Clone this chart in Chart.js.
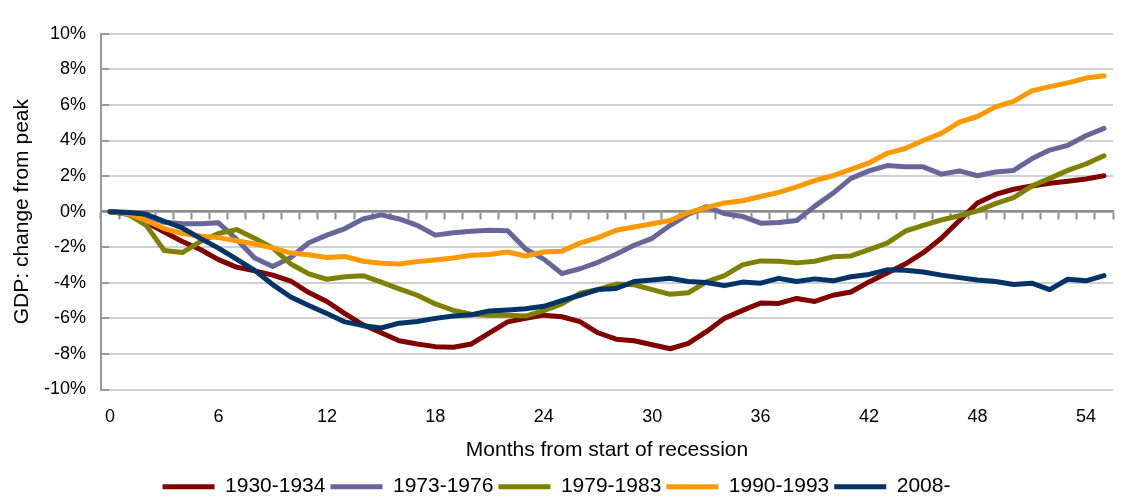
<!DOCTYPE html>
<html lang="en">
<head>
    <meta charset="UTF-8">
    <title>GDP: change from peak</title>
    <style>
        * { margin: 0; padding: 0; box-sizing: border-box; }
        body { background: #fff; }
        #chart-container { width: 1123px; height: 497px; position: relative; }
    </style>
</head>
<body>
    <div id="chart-container">
        <canvas id="myChart"></canvas>
    </div>
<script src="https://cdn.jsdelivr.net/npm/chart.js"></script>
<script>
    // months from start of recession
    const months = ['0','1','2','3','4','5','6','7','8','9','10','11','12','13','14','15','16','17','18','19',
        '20','21','22','23','24','25','26','27','28','29','30','31','32','33','34','35','36','37','38','39',
        '40','41','42','43','44','45','46','47','48','49','50','51','52','53','54','55'];

    // GDP change from peak, percent
    const r1930 = [0, -0.15, -0.6, -1.14, -1.68, -2.13, -2.7, -3.12, -3.33, -3.57,
        -3.9, -4.55, -5.05, -5.73, -6.36, -6.81, -7.26, -7.44, -7.59, -7.62,
        -7.44, -6.81, -6.2, -6.0, -5.82, -5.91, -6.18, -6.81, -7.17, -7.26,
        -7.48, -7.71, -7.41, -6.75, -6.0, -5.55, -5.14, -5.16, -4.88, -5.05,
        -4.7, -4.52, -3.95, -3.45, -2.95, -2.31, -1.5, -0.5, 0.49, 0.97,
        1.26, 1.44, 1.6, 1.71, 1.84, 2.02];
    const r1973 = [0, -0.05, -0.23, -0.6, -0.68, -0.68, -0.63, -1.55, -2.6, -3.08,
        -2.58, -1.75, -1.32, -0.95, -0.41, -0.18, -0.41, -0.77, -1.32, -1.19,
        -1.1, -1.05, -1.08, -2.1, -2.67, -3.48, -3.21, -2.85, -2.4, -1.89,
        -1.5, -0.77, -0.14, 0.28, -0.11, -0.27, -0.65, -0.61, -0.5, 0.31,
        1.03, 1.87, 2.29, 2.59, 2.53, 2.52, 2.11, 2.29, 2.02, 2.23,
        2.32, 2.97, 3.46, 3.73, 4.27, 4.68];
    const r1979 = [0, -0.14, -0.77, -2.18, -2.3, -1.68, -1.23, -1.01, -1.5, -2.04,
        -2.94, -3.5, -3.8, -3.66, -3.6, -3.96, -4.34, -4.7, -5.19, -5.55,
        -5.77, -5.82, -5.83, -5.87, -5.57, -5.19, -4.59, -4.38, -4.07, -4.11,
        -4.38, -4.65, -4.56, -3.95, -3.6, -2.99, -2.77, -2.79, -2.88, -2.79,
        -2.54, -2.49, -2.13, -1.77, -1.1, -0.77, -0.47, -0.23, 0.04, 0.45,
        0.79, 1.44, 1.87, 2.32, 2.68, 3.14];
    const r1990 = [0, -0.1, -0.5, -0.95, -1.23, -1.37, -1.46, -1.64, -1.82, -2.04,
        -2.33, -2.42, -2.58, -2.52, -2.79, -2.9, -2.94, -2.81, -2.72, -2.61,
        -2.45, -2.41, -2.27, -2.49, -2.27, -2.22, -1.77, -1.46, -1.05, -0.86,
        -0.68, -0.5, -0.05, 0.23, 0.49, 0.61, 0.85, 1.08, 1.39, 1.75,
        2.02, 2.38, 2.74, 3.28, 3.55, 4.0, 4.4, 5.03, 5.35, 5.89,
        6.2, 6.79, 7.03, 7.24, 7.51, 7.64];
    const r2008 = [0, -0.05, -0.15, -0.54, -0.92, -1.5, -2.05, -2.67, -3.3, -4.1,
        -4.8, -5.28, -5.73, -6.2, -6.41, -6.54, -6.27, -6.18, -6.0, -5.87,
        -5.8, -5.58, -5.53, -5.46, -5.32, -5.0, -4.7, -4.38, -4.32, -3.93,
        -3.84, -3.75, -3.93, -3.98, -4.16, -3.96, -4.02, -3.75, -3.93, -3.78,
        -3.89, -3.66, -3.53, -3.27, -3.3, -3.39, -3.57, -3.71, -3.84, -3.93,
        -4.1, -4.02, -4.38, -3.8, -3.89, -3.6];

    const seriesNames = ['1930-1934', '1973-1976', '1979-1983', '1990-1993', '2008-'];
    const seriesData = [r1930, r1973, r1979, r1990, r2008];
    const seriesColors = ['#800000', '#666699', '#808000', '#ff9900', '#003366'];

    Chart.defaults.font.family = "'Liberation Sans', Arial, sans-serif";
    Chart.defaults.color = '#000';

    const datasets = seriesNames.map(function(name, i) {
        return {
            label: name,
            data: seriesData[i],
            borderColor: seriesColors[i],
            backgroundColor: seriesColors[i],
            borderWidth: 5,
            pointRadius: 0,
            tension: 0,
            borderJoinStyle: 'round',
            borderCapStyle: 'round',
            order: seriesNames.length - i   // later series on top, like Excel
        };
    });

    const axisGrey = '#8c8c8c';

    const ctx = document.getElementById('myChart').getContext('2d');
    new Chart(ctx, {
        type: 'line',
        data: { labels: months, datasets: datasets },
        options: {
            responsive: true,
            maintainAspectRatio: false,
            animation: false,
            layout: { padding: { top: 19.5, right: 10, bottom: -10.2, left: 0 } },
            plugins: {
                tooltip: { enabled: false },
                legend: {
                    position: 'bottom',
                    labels: {
                        font: { size: 21 },
                        color: '#000',
                        boxWidth: 52,
                        boxHeight: 5,
                        padding: 5,
                        sort: (a, b) => a.datasetIndex - b.datasetIndex,
                        generateLabels: function(chart) {
                            return Chart.defaults.plugins.legend.labels.generateLabels(chart).map(function(l) {
                                l.lineWidth = 0;
                                return l;
                            });
                        }
                    }
                }
            },
            scales: {
                x: {
                    type: 'category',
                    offset: true,
                    grid: { display: false, drawTicks: false },
                    border: { display: false },
                    ticks: {
                        autoSkip: false,
                        maxRotation: 0,
                        padding: 16.7,
                        font: { size: 18 },
                        callback: function(v, i) { return i % 6 === 0 ? months[i] : ''; }
                    },
                    title: {
                        display: true,
                        text: 'Months from start of recession',
                        font: { size: 21 },
                        padding: { top: 0, bottom: 7.9 }
                    },
                    afterFit: function(scale) { scale.height = 81.7; }
                },
                // horizontal axis line with tick marks, crossing at 0%
                xZero: {
                    type: 'category',
                    axis: 'x',
                    position: { y: 0 },
                    offset: true,
                    grid: {
                        display: true,
                        drawOnChartArea: false,
                        drawTicks: true,
                        tickLength: 7,
                        tickColor: axisGrey,
                        tickWidth: 2,
                        offset: true
                    },
                    border: { display: true, color: axisGrey, width: 2.5 },
                    ticks: { display: false, autoSkip: false }
                },
                y: {
                    min: -10,
                    max: 10,
                    ticks: {
                        stepSize: 2,
                        padding: 23,
                        font: { size: 18 },
                        callback: function(v) { return v + '%'; }
                    },
                    grid: {
                        color: '#d0d0d0',
                        lineWidth: 2,
                        tickLength: -8,
                        tickColor: '#999',
                        tickWidth: 2
                    },
                    border: { display: true, color: '#999', width: 2 },
                    title: {
                        display: true,
                        text: 'GDP: change from peak',
                        font: { size: 21 },
                        padding: { top: 9.4, bottom: 0 }
                    },
                    afterFit: function(scale) { scale.width = 101; }
                }
            }
        }
    });
</script>
</body>
</html>
